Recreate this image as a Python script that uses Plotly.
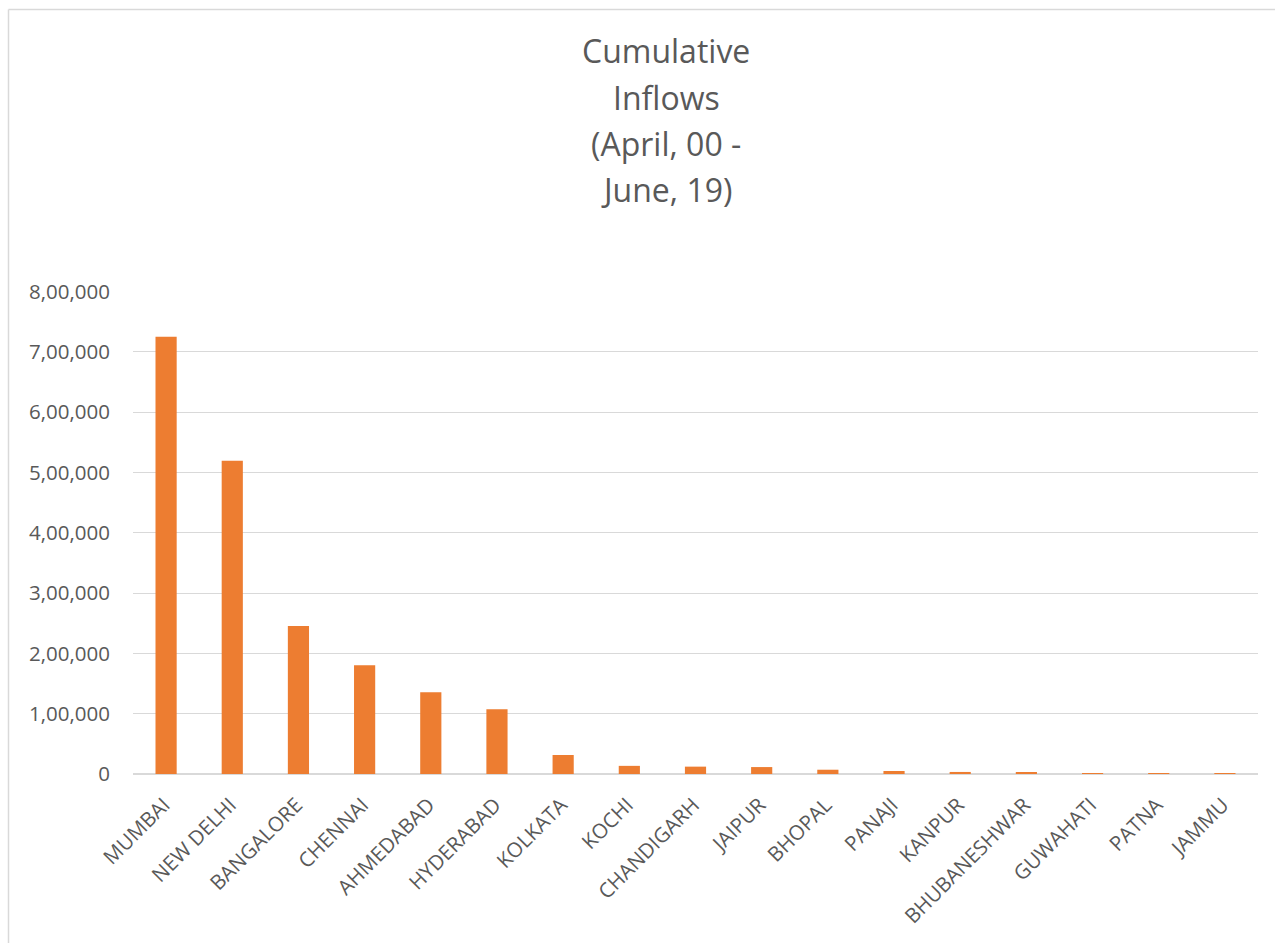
import plotly.graph_objects as go

# City-wise cumulative FDI equity inflows (INR crore)
cities = ["MUMBAI", "NEW DELHI", "BANGALORE", "CHENNAI", "AHMEDABAD", "HYDERABAD",
          "KOLKATA", "KOCHI", "CHANDIGARH", "JAIPUR", "BHOPAL", "PANAJI", "KANPUR",
          "BHUBANESHWAR", "GUWAHATI", "PATNA", "JAMMU"]
inflows = [725000, 519500, 245500, 180500, 135500, 107500,
           31500, 13500, 12200, 11500, 7100, 5000, 3400,
           2200, 700, 500, 300]

tick_vals = [0, 100000, 200000, 300000, 400000, 500000, 600000, 700000, 800000]
tick_text = ["0", "1,00,000", "2,00,000", "3,00,000", "4,00,000",
             "5,00,000", "6,00,000", "7,00,000", "8,00,000"]

title_lines = ["Cumulative", "Inflows", "(April, 00 -", "June, 19)"]

W, H = 1275, 943
ML, MR, MT, MB = 133, 17, 291, 169
PW, PH = W - ML - MR, H - MT - MB

def px_x(x):
    return (x - ML) / PW

def px_y(y):
    return (H - MB - y) / PH

TEXT = "#595959"
GRID = "#d9d9d9"
FONT = "Open Sans"

fig = go.Figure(go.Bar(
    x=cities, y=inflows,
    marker=dict(color="#ED7D31", line=dict(width=0)),
    hoverinfo="x+y",
))

annotations = []
for i, line in enumerate(title_lines):
    annotations.append(dict(
        text=line, x=px_x(666), y=px_y(51 + i * 46.3),
        xref="paper", yref="paper", xanchor="center", yanchor="middle",
        showarrow=False, font=dict(family=FONT, size=32, color=TEXT),
    ))

shapes = [
    # chart frame (top and left edges)
    dict(type="line", xref="paper", yref="paper",
         x0=px_x(8.5), x1=px_x(W + 5), y0=px_y(9.5), y1=px_y(9.5),
         line=dict(color=GRID, width=1.5)),
    dict(type="line", xref="paper", yref="paper",
         x0=px_x(8.5), x1=px_x(8.5), y0=px_y(9.5), y1=px_y(H + 5),
         line=dict(color=GRID, width=1.5)),
]

fig.update_layout(
    width=W, height=H,
    margin=dict(l=ML, r=MR, t=MT, b=MB, pad=0),
    paper_bgcolor="white", plot_bgcolor="white",
    bargap=0.68,
    showlegend=False,
    font=dict(family=FONT, color=TEXT),
    annotations=annotations,
    shapes=shapes,
    xaxis=dict(
        tickangle=-45, tickfont=dict(family=FONT, size=20.5, color=TEXT),
        showgrid=False, showline=False, ticks="", ticklen=0,
        ticklabelstandoff=14, ticklabelshift=-2,
    ),
    yaxis=dict(
        range=[0, 801000], tickvals=tick_vals, ticktext=tick_text,
        tickfont=dict(family=FONT, size=20.5, color=TEXT),
        showgrid=True, gridcolor=GRID, gridwidth=1.3,
        zeroline=True, zerolinecolor=GRID, zerolinewidth=2,
        showline=False, ticks="", ticklabelstandoff=22,
    ),
)

fig.write_html("out.html")
